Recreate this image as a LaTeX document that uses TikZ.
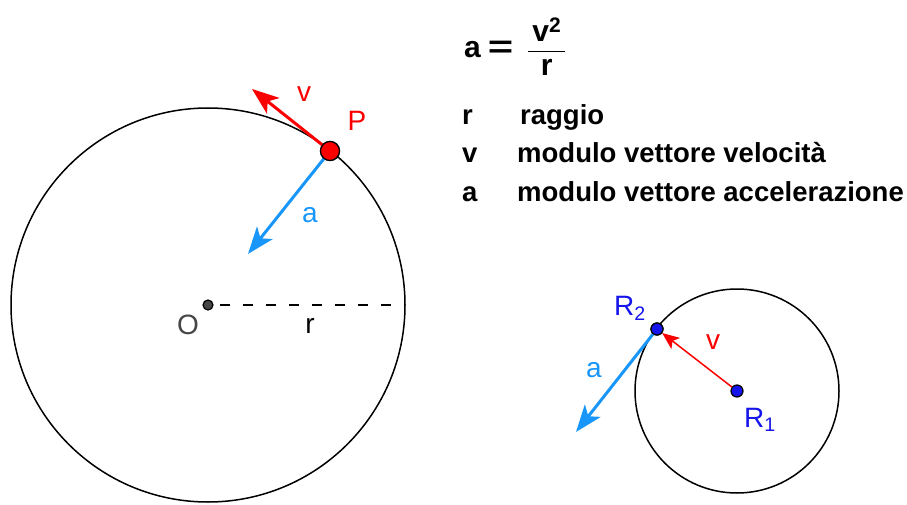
\documentclass[tikz,border=0pt]{standalone}
\usepackage{amsmath}
\usepackage{graphicx}
\usepackage{fontspec}
\setmainfont{Liberation Sans}
\usetikzlibrary{arrows.meta}
\definecolor{accblue}{RGB}{25,150,250}
\definecolor{velred}{RGB}{250,0,0}
\definecolor{ptblue}{RGB}{20,20,235}
\definecolor{ogray}{RGB}{70,70,70}
\tikzset{
  x=1pt, y=-1pt,
  orbit/.style={draw=black, line width=1.5pt},
  bigvec/.style={line width=3pt, -{Stealth[length=27pt,width=20pt,inset=7pt]}},
  thinvec/.style={line width=1.5pt, -{Stealth[length=17pt,width=14pt,inset=4pt]}},
  dot/.style={circle, draw=black, line width=1.2pt, inner sep=0pt},
  lbl/.style={font=\fontsize{28}{30}\selectfont, inner sep=0pt},
  txt/.style={font=\fontsize{27.5}{30}\selectfont\bfseries, inner sep=0pt, anchor=base west},
}
\begin{document}
\begin{tikzpicture}
\useasboundingbox (0,0) rectangle (907,505);
% big circle
\draw[orbit] (208,305) circle[radius=197];
\node[dot, fill=ogray, minimum size=10pt] (O) at (208,305) {};
\coordinate (rend) at (405,305);
\draw[line width=1.5pt, dash pattern=on 10pt off 13pt, dash phase=-12pt] (O.center) -- (rend);
\node[lbl, text=ogray] (Olab) at (188,325) {O};
\node[lbl] (rlab) at (310,326) {r};
% point P and vectors
\coordinate (vtip) at (252,89);
\coordinate (atip) at (248,254);
\node[dot, fill=velred, minimum size=19pt] (P) at (330,151) {};
\draw[bigvec, velred] (P.center) -- (vtip);
\draw[bigvec, accblue] (P.center) -- (atip);
\node[dot, fill=velred, minimum size=19pt] at (330,151) {};
\node[lbl, text=velred] (vlab) at (304,94) {v};
\node[lbl, text=velred] (Plab) at (357,121) {P};
\node[lbl, text=accblue] (alab) at (310,215) {a};
% small circle
\draw[orbit] (737,391) circle[radius=102];
\node[dot, fill=ptblue, minimum size=12pt] (R1) at (737,391) {};
\node[dot, fill=ptblue, minimum size=12pt] (R2) at (657,329) {};
\coordinate (atip2) at (576,432);
\draw[thinvec, velred] (R1) -- (R2);
\draw[bigvec, accblue] (R2.center) -- (atip2);
\node[dot, fill=ptblue, minimum size=12pt] at (657,329) {};
\node[lbl, text=velred] (v2lab) at (713,342) {v};
\node[lbl, text=accblue] (a2lab) at (594,370) {a};
\node[lbl, text=ptblue, anchor=base west] (R2lab) at (614,315) {R$_{\text{2}}$};
\node[lbl, text=ptblue, anchor=base west] (R1lab) at (744,427) {R$_{\text{1}}$};
% formula and legend
\node[font=\fontsize{30}{32}\selectfont, inner sep=0pt, anchor=base west] (formula) at (464,58)
  {$\displaystyle \textbf{a} \mathrel{\scalebox{1.45}[1.05]{\textbf{=}}}\; \frac{\,\textbf{v}^{\textbf{2}}\,}{\textbf{r}}$};
\node[txt] (k1) at (462,125) {r};
\node[txt] (d1) at (520,125) {raggio};
\node[txt] (k2) at (462,163) {v};
\node[txt] (d2) at (517,163) {modulo vettore velocità};
\node[txt] (k3) at (462,202) {a};
\node[txt] (d3) at (517,202) {modulo vettore accelerazione};
\end{tikzpicture}
\end{document}
